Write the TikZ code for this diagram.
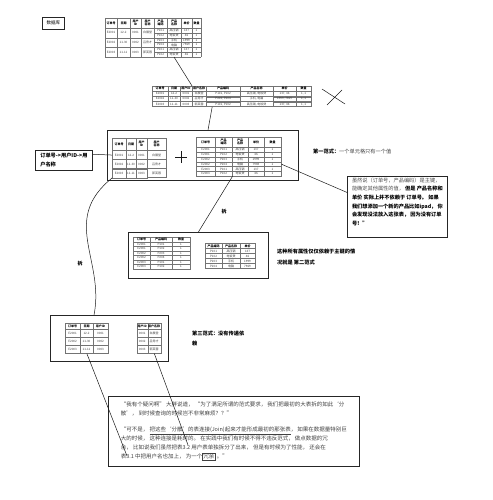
\documentclass[tikz,border=0pt]{standalone}
\usepackage{fontspec}
\setmainfont{Noto Sans CJK SC}
\usetikzlibrary{matrix}

% two-line header inside a matrix cell
\newcommand\twoline[2]{\begin{tabular}{@{}c@{}}#1\\#2\end{tabular}}

\tikzset{
  grid/.style={draw=black!55, line width=0.35pt},
  txt/.style={inner sep=0pt, align=center, text=black!75, font=\fontsize{3}{3.4}\selectfont},
  hd/.style={text=black, font=\fontsize{3}{3.4}\selectfont\bfseries},
  cell/.style={txt, draw=black!55, line width=0.35pt},
  tbl/.style={matrix of nodes, nodes={cell}, row sep=-0.35pt, column sep=-0.35pt,
    anchor=north west, inner sep=0pt, row 1/.style={nodes={hd}}},
  frame/.style={draw=black!85, line width=0.8pt, inner sep=0pt, anchor=north west},
  link/.style={draw=black!90, line width=0.5pt},
  lab/.style={inner sep=0pt, align=left, font=\fontsize{5.2}{10}\selectfont\bfseries},
}

\begin{document}
\begin{tikzpicture}[x=1pt, y=-1pt]
\useasboundingbox (0,0) rectangle (492,500);

\node[frame, line width=0.6pt, minimum width=22, minimum height=12,
  font=\fontsize{4.5}{5}\selectfont] (db) at (42,17) {数据库};

% the big table, order cells span two product rows
\foreach \x in {105,117,130,141,154,167,181,192,201}
  \draw[grid] (\x,18) -- (\x,57);
\foreach \y in {18,28,37.7,47.3,57}
  \draw[grid] (105,\y) -- (201,\y);
\foreach \y in {32.85,42.5,52.15}
  \draw[grid] (154,\y) -- (201,\y);
\foreach \x/\t [count=\i] in {111/订单号,123.5/日期,135.5/{用户\\ID},147.5/{用户\\名称},
    160.5/{产品\\编码},174/{产品\\名称},186.5/单价,196.5/数量}
  \node[txt, hd] (t0h\i) at (\x,23) {\t};
\foreach \y/\o/\d/\u/\n [count=\i] in {32.85/E2001/12-2/0001/白展堂,
    42.5/E2002/11-30/0002/吕秀才, 52.15/E2003/11-11/0003/郭芙蓉} {
  \node[txt] (t0o\i) at (111,\y) {\o};
  \node[txt] (t0d\i) at (123.5,\y) {\d};
  \node[txt] (t0u\i) at (135.5,\y) {\u};
  \node[txt] (t0n\i) at (147.5,\y) {\n};
}
\foreach \y/\p/\n/\v [count=\i] in {30.4/P101/高压锅/137, 35.3/P102/电饭煲/46,
    40.1/P203/手机/1999, 44.9/P204/电脑/7969, 49.7/P101/高压锅/137, 54.6/P102/电饭煲/46} {
  \node[txt] (t0p\i) at (160.5,\y) {\p};
  \node[txt] (t0m\i) at (174,\y) {\n};
  \node[txt] (t0v\i) at (186.5,\y) {\v};
  \node[txt] (t0q\i) at (196.5,\y) {1};
}

% flattened table
\matrix (t1) [tbl, nodes={minimum height=4.8},
  column 1/.style={nodes={minimum width=16}},
  column 2/.style={nodes={minimum width=12}},
  column 3/.style={nodes={minimum width=12}},
  column 4/.style={nodes={minimum width=14}},
  column 5/.style={nodes={minimum width=34}},
  column 6/.style={nodes={minimum width=33}},
  column 7/.style={nodes={minimum width=23}},
  column 8/.style={nodes={minimum width=15}}] at (152,86) {
  订单号 & 日期 & 用户ID & 用户名称 & 产品编码 & 产品名称 & 单价 & 数量 \\
  E2001 & 12-2 & 0001 & 白展堂 & {P101, P102} & {高压锅, 电饭煲} & {137, 46} & {1, 1} \\
  E2002 & 11-30 & 0002 & 吕秀才 & {P203, P204} & {手机, 电脑} & {1999, 7969} & {1, 1} \\
  E2003 & 11-11 & 0003 & 郭芙蓉 & {P101, P102} & {高压锅, 电饭煲} & {137, 46} & {1, 1} \\
};

\coordinate (x1) at (322,89);
\coordinate (x2) at (345,104);
\coordinate (x3) at (342,90);
\coordinate (x4) at (327,105);

% first normal form
\node[frame, minimum width=191, minimum height=50] (nf1) at (107,130) {};
\matrix (t2) [tbl, nodes={minimum height=9},
  row 1/.style={nodes={hd, minimum height=12}},
  column 1/.style={nodes={minimum width=14}},
  column 2/.style={nodes={minimum width=10}},
  column 3/.style={nodes={minimum width=11}},
  column 4/.style={nodes={minimum width=19}}] at (112,138) {
  订单号 & 日期 & \twoline{用户}{ID} & \twoline{用户}{名称} \\
  E2001 & 12-2 & 0001 & 白展堂 \\
  E2002 & 11-30 & 0002 & 吕秀才 \\
  E2003 & 11-11 & 0003 & 郭芙蓉 \\
};
\draw[link] (181,151) -- (181,163) (175,157) -- (187,157);
\matrix (t3) [tbl, nodes={minimum height=4.7},
  row 1/.style={nodes={hd, minimum height=10}},
  column 1/.style={nodes={minimum width=19}},
  column 2/.style={nodes={minimum width=17}},
  column 3/.style={nodes={minimum width=16}},
  column 4/.style={nodes={minimum width=16}},
  column 5/.style={nodes={minimum width=17}}] at (196,137) {
  订单号 & \twoline{产品}{编码} & \twoline{产品}{名称} & 单价 & 数量 \\
  E2001 & P101 & 高压锅 & 137 & 1 \\
  E2001 & P102 & 电饭煲 & 46 & 1 \\
  E2002 & P203 & 手机 & 1999 & 1 \\
  E2002 & P204 & 电脑 & 7969 & 1 \\
  E2003 & P101 & 高压锅 & 137 & 1 \\
  E2003 & P102 & 电饭煲 & 46 & 1 \\
};
\node[frame, minimum width=57, minimum height=20, lab, font=\fontsize{5.2}{9}\selectfont\bfseries]
  (lbl) at (35,150) {订单号->用户ID->用\\户名称};
\node[lab, anchor=west] (nf1txt) at (313,151)
  {第一范式：{\mdseries\color{black!75} 一个单元格只有一个值}};
\node[frame, minimum width=100, minimum height=61, lab,
  font=\fontsize{5.2}{8.6}\selectfont\bfseries] (why) at (347,176) {%
  {\mdseries\color{black!70}虽然说（订单号，产品编码）是主键，}\\
  {\mdseries\color{black!70}能确定其他属性的值，} 但是 产品名称和\\
  单价 实际上并不依赖于 订单号。 如果\\
  我们想添加一个新的产品比如ipad， 你\\
  会发现没法放入这张表， 因为没有订单\\
  号！”\\[2pt]};

% second normal form
\node[frame, minimum width=140, minimum height=46] (nf2) at (128,232) {};
\matrix (t4) [tbl, nodes={minimum height=4.5},
  column 1/.style={nodes={minimum width=17}},
  column 2/.style={nodes={minimum width=22}},
  column 3/.style={nodes={minimum width=18}}] at (133,237) {
  订单号 & 产品编码 & 数量 \\
  E2001 & P101 & 1 \\
  E2001 & P102 & 1 \\
  E2002 & P203 & 1 \\
  E2002 & P204 & 1 \\
  E2003 & P101 & 1 \\
  E2003 & P102 & 1 \\
};
\matrix (t5) [tbl, nodes={minimum height=5},
  column 1/.style={nodes={minimum width=17}},
  column 2/.style={nodes={minimum width=18}},
  column 3/.style={nodes={minimum width=15}}] at (205,243) {
  产品编码 & 产品名称 & 单价 \\
  P101 & 高压锅 & 137 \\
  P102 & 电饭煲 & 46 \\
  P203 & 手机 & 1999 \\
  P204 & 电脑 & 7969 \\
};
\node[lab, anchor=north west, font=\fontsize{5.2}{11}\selectfont\bfseries] (nf2txt)
  at (277,249) {这种所有属性仅仅依赖于主键的情\\况就是 第二范式};

% third normal form
\node[frame, minimum width=118, minimum height=46] (nf3) at (50,315) {};
\matrix (t6) [tbl, nodes={minimum height=8},
  row 1/.style={nodes={hd, minimum height=6}},
  column 1/.style={nodes={minimum width=15}},
  column 2/.style={nodes={minimum width=13}},
  column 3/.style={nodes={minimum width=15}}] at (65,323) {
  订单号 & 日期 & 用户ID \\
  E2001 & 12-2 & 0001 \\
  E2002 & 11-30 & 0002 \\
  E2003 & 11-11 & 0003 \\
};
\matrix (t7) [tbl, nodes={minimum height=8},
  row 1/.style={nodes={hd, minimum height=6}},
  column 1/.style={nodes={minimum width=10.5}},
  column 2/.style={nodes={minimum width=13}}] at (137,323) {
  用户ID & 用户名称 \\
  0001 & 白展堂 \\
  0002 & 吕秀才 \\
  0003 & 郭芙蓉 \\
};
\node[lab, anchor=north west] (nf3txt) at (192,331) {第三范式：没有传递依\\赖};

\node[frame, minimum width=251, minimum height=70, align=left, text=black!75,
  font=\fontsize{5.5}{9}\selectfont] (talk) at (108,396) {%
  “我有个疑问啊” 大胖说道， “为了满足所谓的范式要求， 我们把最初的大表拆的如此‘分\\
  散’， 到时候查询的时候岂不非常麻烦？？”\\[7pt]
  “可不是， \underline{把这些‘分散’的表连接(Join)起来才能形成最初的那张表}， 如果在数据量特别巨\\
  大的时候， 这种连接是耗时的。 在实践中我们有时候不得不违反范式， 做点数据的冗\\
  余， 比如说我们虽然把表3.2 用户表单独拆分了出来， 但是有时候为了性能， 还会在\\
  表3.1 中把用户名也加上， 为一个{\fboxsep=0.6pt\fboxrule=0.5pt\fbox{冗余}} 。”};

\coordinate (c3top) at (94,315);
\coordinate (ref31) at (127,456);
\coordinate (ref32) at (188,445);
\node[lab, font=\fontsize{5}{6}\selectfont\bfseries] (chai1) at (224,212) {拆};
\node[lab, font=\fontsize{5}{6}\selectfont\bfseries] (chai2) at (80,264) {拆};

\draw[link] (t0h6.south |- 0,57) -- (t1-1-4.north west);
\draw[link] ([xshift=6]t1-4-5.south west) -- ([xshift=101]nf1.north west);
\draw[link] (x1) -- (x2) (x3) -- (x4);
\draw[link] (lbl.12) -- (t2-2-1.west);
\draw[link] (t3-5-5.east) -- (why.164);
\draw[link] (t3-7-2.south east) -- (nf2.north);
\draw[link] (t2-4-1.south west) .. controls (60,220) and (105,260) .. (c3top);
\draw[link] (t6-4-2.south) -- (ref31);
\draw[link] (t7-4-2.south) -- (ref32);
\end{tikzpicture}
\end{document}
